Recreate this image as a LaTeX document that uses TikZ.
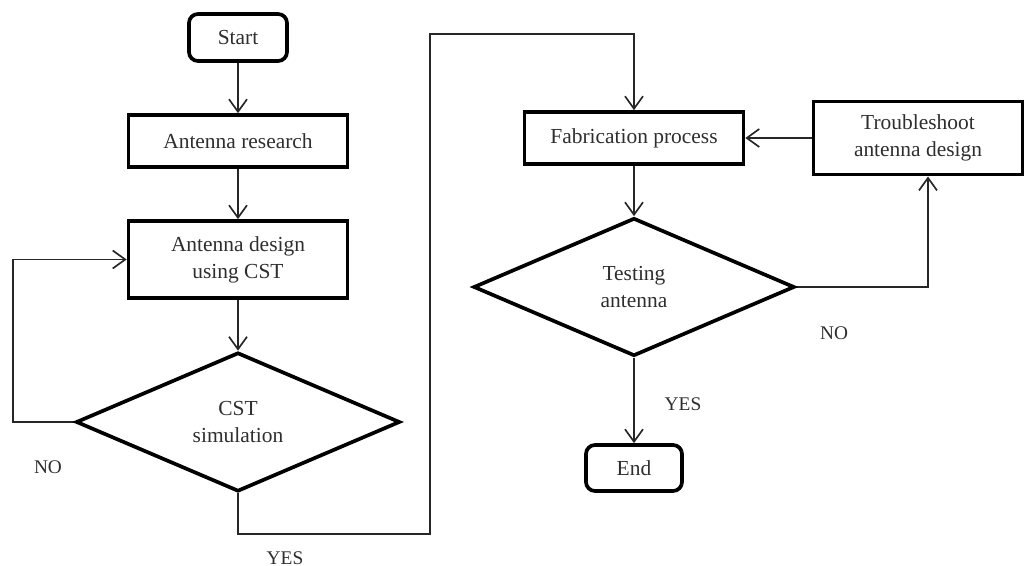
\documentclass[tikz,border=0pt]{standalone}
\usepackage{fontspec}
\setmainfont{Liberation Serif}
\usetikzlibrary{arrows.meta,shapes.geometric}
\pgfdeclarelayer{edgelayer}
\pgfdeclarelayer{nodelayer}
\pgfsetlayers{edgelayer,nodelayer,main}
\tikzstyle{none}=[inner sep=0pt]
\tikzstyle{terminal}=[draw, line width=2.1pt, rounded corners=0.18cm, minimum width=1.96cm, minimum height=0.94cm, text=black!82, font=\fontsize{12.2}{15}\selectfont]
\tikzstyle{process}=[draw, line width=2.1pt, align=center, minimum width=4.38cm, minimum height=1.04cm, text=black!82, font=\fontsize{12.2}{15.5}\selectfont]
\tikzstyle{decision}=[draw, diamond, line width=2.1pt, align=center, inner sep=0pt, minimum width=6.48cm, minimum height=2.78cm, text=black!82, font=\fontsize{12.2}{15.5}\selectfont]
\tikzstyle{answer}=[text=black!82, font=\fontsize{11}{13}\selectfont]
\tikzstyle{flow}=[-{Straight Barb[length=2.5mm,width=3.6mm]}, line width=0.95pt, black!85]

\begin{document}
\begin{tikzpicture}
	\useasboundingbox (0, 0) rectangle (20.54, -11.32);
	\begin{pgfonlayer}{nodelayer}
		\node [style=terminal] (0) at (4.76, -0.75) {Start};
		\node [style=process] (1) at (4.76, -2.82) {Antenna research};
		\node [style=process, minimum height=1.54cm] (2) at (4.76, -5.19) {Antenna design\\using CST};
		\node [style=decision] (3) at (4.76, -8.44) {CST\\simulation};
		\node [style=process] (5) at (12.68, -2.76) {Fabrication process};
		\node [style=process, minimum width=4.18cm, minimum height=1.46cm] (6) at (18.36, -2.76) {Troubleshoot\\antenna design};
		\node [style=decision, minimum width=6.42cm, minimum height=2.76cm] (7) at (12.68, -5.74) {Testing\\antenna};
		\node [style=terminal, minimum width=1.92cm, minimum height=0.92cm] (8) at (12.68, -9.36) {End};
		\node [style=none] (20) at (0.26, -8.44) {};
		\node [style=none] (21) at (0.26, -5.19) {};
		\node [style=none] (22) at (4.76, -10.68) {};
		\node [style=none] (23) at (8.6, -10.68) {};
		\node [style=none] (24) at (8.6, -0.68) {};
		\node [style=none] (25) at (12.68, -0.68) {};
		\node [style=none] (26) at (18.56, -5.74) {};
		\node [style=none] (27) at (18.56, -3.53) {};
		\node [style=answer] (30) at (0.96, -9.34) {NO};
		\node [style=answer] (31) at (5.7, -11.16) {YES};
		\node [style=answer] (32) at (16.68, -6.66) {NO};
		\node [style=answer] (33) at (13.66, -8.08) {YES};
	\end{pgfonlayer}
	\begin{pgfonlayer}{edgelayer}
		\draw [style=flow] (0) to (1);
		\draw [style=flow] (1) to (2);
		\draw [style=flow] (2) to (3);
		\draw [style=flow] (3) to (20.center) to (21.center) to (2);
		\draw [style=flow] (3) to (22.center) to (23.center) to (24.center) to (25.center) to (5);
		\draw [style=flow] (5) to (7);
		\draw [style=flow] (7) to (8);
		\draw [style=flow] (7) to (26.center) to (27.center);
		\draw [style=flow] (6) to (5);
	\end{pgfonlayer}
\end{tikzpicture}
\end{document}
